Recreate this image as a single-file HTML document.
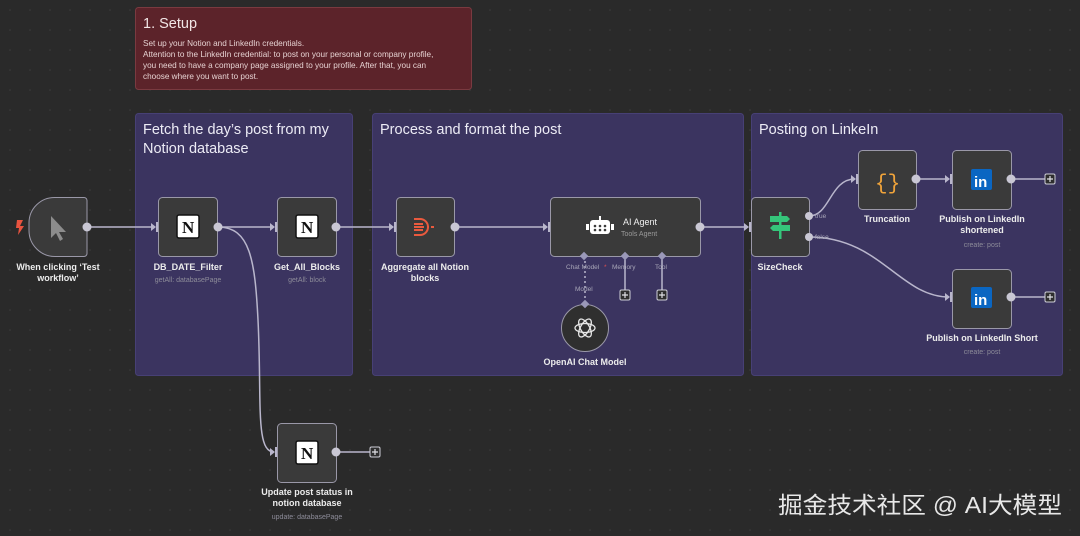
<!DOCTYPE html>
<html><head><meta charset="utf-8"><style>
html,body{margin:0;padding:0;background:#2a2a2a;}
svg{display:block;font-family:"Liberation Sans","Noto Sans CJK SC",sans-serif;}
</style></head><body>
<svg width="1080" height="536" viewBox="0 0 1080 536" xmlns="http://www.w3.org/2000/svg">
<defs>
<pattern id="dots" width="20" height="20" patternUnits="userSpaceOnUse"><circle cx="10" cy="10" r="0.8" fill="#3c3c3c"/></pattern>
</defs>
<rect width="1080" height="536" fill="#2a2a2a"/>
<rect width="1080" height="536" fill="url(#dots)"/>

<!-- Setup note -->
<rect x="135.5" y="7.5" width="336" height="82" rx="3" fill="#5c232a" stroke="#7a3a40"/>
<text x="143" y="28" font-size="14.5" fill="#f2e6e6">1. Setup</text>
<g font-size="8.2" fill="#e6d2d2">
<text x="143" y="46">Set up your Notion and LinkedIn credentials.</text>
<text x="143" y="57">Attention to the LinkedIn credential: to post on your personal or company profile,</text>
<text x="143" y="68">you need to have a company page assigned to your profile. After that, you can</text>
<text x="143" y="79">choose where you want to post.</text>
</g>

<!-- Groups -->
<rect x="135.5" y="113.5" width="217" height="262" rx="3" fill="#3b3460" stroke="#474075"/>
<text x="143" y="134" font-size="14.5" fill="#ecebf5">Fetch the day’s post from my</text>
<text x="143" y="153" font-size="14.5" fill="#ecebf5">Notion database</text>
<rect x="372.5" y="113.5" width="371" height="262" rx="3" fill="#3b3460" stroke="#474075"/>
<text x="380" y="134" font-size="14.5" fill="#ecebf5">Process and format the post</text>
<rect x="751.5" y="113.5" width="311" height="262" rx="3" fill="#3b3460" stroke="#474075"/>
<text x="759" y="134" font-size="14.5" fill="#ecebf5">Posting on LinkeIn</text>

<!-- Connectors -->
<g stroke="#b9b6cc" stroke-width="1.5" fill="none">
<line x1="87" y1="227" x2="155" y2="227"/>
<line x1="218" y1="227" x2="274" y2="227"/>
<line x1="336" y1="227" x2="393" y2="227"/>
<line x1="455" y1="227" x2="547" y2="227"/>
<line x1="700" y1="227" x2="748" y2="227"/>
<path d="M218 227 C250 227 255 260 258 320 C262 400 255 452 274 452"/>
<path d="M809 216 C830 216 830 179 855 179"/>
<path d="M809 237 C880 237 900 297 949 297"/>
<line x1="916" y1="179" x2="949" y2="179"/>
<line x1="1011" y1="179" x2="1045" y2="179"/>
<line x1="1011" y1="297" x2="1045" y2="297"/>
<line x1="336" y1="452" x2="370" y2="452"/>
<line x1="585" y1="256" x2="585" y2="305" stroke-dasharray="2 3"/>
<line x1="625" y1="256" x2="625" y2="290"/>
<line x1="662" y1="256" x2="662" y2="290"/>
</g>
<g fill="#b9b6cc">
<polygon points="151,223 156,227 151,231"/><rect x="156" y="222" width="3" height="10"/>
<polygon points="270,223 275,227 270,231"/><rect x="275" y="222" width="3" height="10"/>
<polygon points="389,223 394,227 389,231"/><rect x="394" y="222" width="3" height="10"/>
<polygon points="543,223 548,227 543,231"/><rect x="548" y="222" width="3" height="10"/>
<polygon points="744,223 749,227 744,231"/><rect x="749" y="222" width="3" height="10"/>
<polygon points="851,175 856,179 851,183"/><rect x="856" y="174" width="3" height="10"/>
<polygon points="945,175 950,179 945,183"/><rect x="950" y="174" width="3" height="10"/>
<polygon points="945,293 950,297 945,301"/><rect x="950" y="292" width="3" height="10"/>
<polygon points="270,448 275,452 270,456"/><rect x="275" y="447" width="3" height="10"/>
</g>

<!-- Nodes -->
<g fill="#3a3a3a" stroke="#9a98a8" stroke-width="1">
<path d="M55 197.5 H84 a3 3 0 0 1 3 3 V253.5 a3 3 0 0 1 -3 3 H55 a26 26 0 0 1 -26 -26 V223 a25.5 25.5 0 0 1 26 -25.5Z"/>
<rect x="158.5" y="197.5" width="59" height="59" rx="4"/>
<rect x="277.5" y="197.5" width="59" height="59" rx="4"/>
<rect x="396.5" y="197.5" width="58" height="59" rx="4"/>
<rect x="550.5" y="197.5" width="150" height="59" rx="4"/>
<rect x="751.5" y="197.5" width="58" height="59" rx="4"/>
<rect x="858.5" y="150.5" width="58" height="59" rx="4"/>
<rect x="952.5" y="150.5" width="59" height="59" rx="4"/>
<rect x="952.5" y="269.5" width="59" height="59" rx="4"/>
<rect x="277.5" y="423.5" width="59" height="59" rx="4"/>
<circle cx="585" cy="328" r="23.5" fill="#2f2f2f"/>
</g>

<g fill="#c9c7d4">
<circle cx="87" cy="227" r="4.5"/><circle cx="218" cy="227" r="4.5"/><circle cx="336" cy="227" r="4.5"/>
<circle cx="455" cy="227" r="4.5"/><circle cx="700" cy="227" r="4.5"/>
<circle cx="809" cy="216" r="4"/><circle cx="809" cy="237" r="4"/>
<circle cx="916" cy="179" r="4.5"/><circle cx="1011" cy="179" r="4.5"/><circle cx="1011" cy="297" r="4.5"/>
<circle cx="336" cy="452" r="4.5"/>
</g>
<g fill="#9a98b8">
<rect x="581" y="253" width="6" height="6" transform="rotate(45 584 256)"/>
<rect x="622" y="253" width="6" height="6" transform="rotate(45 625 256)"/>
<rect x="659" y="253" width="6" height="6" transform="rotate(45 662 256)"/>
<rect x="582" y="301" width="6" height="6" transform="rotate(45 585 304)"/>
</g>

<g fill="#2e2e2e" stroke="#cfcfd8" stroke-width="1">
<rect x="1045" y="174" width="10" height="10" rx="1.5"/>
<rect x="1045" y="292" width="10" height="10" rx="1.5"/>
<rect x="370" y="447" width="10" height="10" rx="1.5"/>
<rect x="620" y="290" width="10" height="10" rx="1.5"/>
<rect x="657" y="290" width="10" height="10" rx="1.5"/>
</g>
<g stroke="#e0e0e6" stroke-width="1.2">
<path d="M1047 179h6M1050 176v6"/><path d="M1047 297h6M1050 294v6"/><path d="M372 452h6M375 449v6"/>
<path d="M622 295h6M625 292v6"/><path d="M659 295h6M662 292v6"/>
</g>

<!-- Icons -->
<path d="M17 220 L23 220 L20 226 L24 226 L18 235 L19 228 L16 228Z" fill="#e8533f"/>
<path d="M51 216 L51 238 L56 233 L60 241 L63 239 L59 232 L66 232Z" fill="#8c8c8c"/>
<g font-family="Liberation Serif,serif" font-weight="bold" font-size="17" fill="#111">
<rect x="177" y="215" width="22" height="23" fill="#fff" stroke="#111" stroke-width="1.5" rx="2"/><text x="182" y="233">N</text>
<rect x="296" y="215" width="22" height="23" fill="#fff" stroke="#111" stroke-width="1.5" rx="2"/><text x="301" y="233">N</text>
<rect x="296" y="441" width="22" height="23" fill="#fff" stroke="#111" stroke-width="1.5" rx="2"/><text x="301" y="459">N</text>
</g>
<g stroke="#ea5a3e" stroke-width="2" fill="none">
<path d="M414 219h6a3 3 0 0 1 0 16h-6M414 224h9M414 227h10M414 230h9M427 227h2M431 227h3"/>
</g>
<rect x="590" y="220" width="20" height="14" rx="3" fill="#fff"/>
<rect x="586" y="224" width="3" height="6" fill="#fff"/><rect x="611" y="224" width="3" height="6" fill="#fff"/>
<rect x="599" y="216" width="2" height="4" fill="#fff"/>
<g fill="#3a3a3a"><circle cx="595" cy="226" r="1.3"/><circle cx="600" cy="226" r="1.3"/><circle cx="605" cy="226" r="1.3"/><circle cx="595" cy="230" r="1.3"/><circle cx="600" cy="230" r="1.3"/><circle cx="605" cy="230" r="1.3"/></g>
<text x="623" y="225" font-size="9" fill="#f0f0f0">AI Agent</text>
<text x="621" y="236" font-size="7" fill="#9a9a9a">Tools Agent</text>
<g stroke="#e8e8e8" stroke-width="1.3" fill="none">
<ellipse cx="585" cy="328" rx="10" ry="4.5"/>
<ellipse cx="585" cy="328" rx="10" ry="4.5" transform="rotate(60 585 328)"/>
<ellipse cx="585" cy="328" rx="10" ry="4.5" transform="rotate(120 585 328)"/>
</g>
<g fill="#35c57a">
<rect x="779" y="212" width="2.5" height="27"/>
<path d="M770 216h17l3 3-3 3h-17z"/><path d="M790 225h-17l-3 3 3 3h17z"/>
</g>
<text x="875" y="189" font-size="21" fill="#f0a43a" font-family="Liberation Mono,monospace">{}</text>
<g>
<rect x="971" y="169" width="21" height="21" rx="2" fill="#0a66c2"/>
<text x="974" y="187" font-size="15" font-weight="bold" fill="#fff">in</text>
<rect x="971" y="287" width="21" height="21" rx="2" fill="#0a66c2"/>
<text x="974" y="305" font-size="15" font-weight="bold" fill="#fff">in</text>
</g>

<g font-size="6.5" fill="#a8a6b8">
<text x="815" y="218">true</text><text x="815" y="239">false</text>
<text x="566" y="269">Chat Model</text><text x="604" y="269" fill="#e05050">*</text>
<text x="612" y="269">Memory</text><text x="655" y="269">Tool</text>
<text x="575" y="291">Model</text>
</g>

<g font-size="9" fill="#ececec" text-anchor="middle" font-weight="bold">
<text x="58" y="270">When clicking ‘Test</text><text x="58" y="281">workflow’</text>
<text x="188" y="270">DB_DATE_Filter</text>
<text x="307" y="270">Get_All_Blocks</text>
<text x="425" y="270">Aggregate all Notion</text><text x="425" y="281">blocks</text>
<text x="585" y="365">OpenAI Chat Model</text>
<text x="780" y="270">SizeCheck</text>
<text x="887" y="222">Truncation</text>
<text x="982" y="222">Publish on LinkedIn</text><text x="982" y="233">shortened</text>
<text x="982" y="341">Publish on LinkedIn Short</text>
<text x="307" y="495">Update post status in</text><text x="307" y="506">notion database</text>
</g>
<g font-size="7" fill="#8d8c99" text-anchor="middle">
<text x="188" y="282">getAll: databasePage</text>
<text x="307" y="282">getAll: block</text>
<text x="982" y="247">create: post</text>
<text x="982" y="354">create: post</text>
<text x="307" y="519">update: databasePage</text>
</g>

<text x="778" y="513" font-size="23" fill="#e8e8e8" textLength="284" lengthAdjust="spacingAndGlyphs">掘金技术社区 @ AI大模型</text>
</svg>
</body></html>
